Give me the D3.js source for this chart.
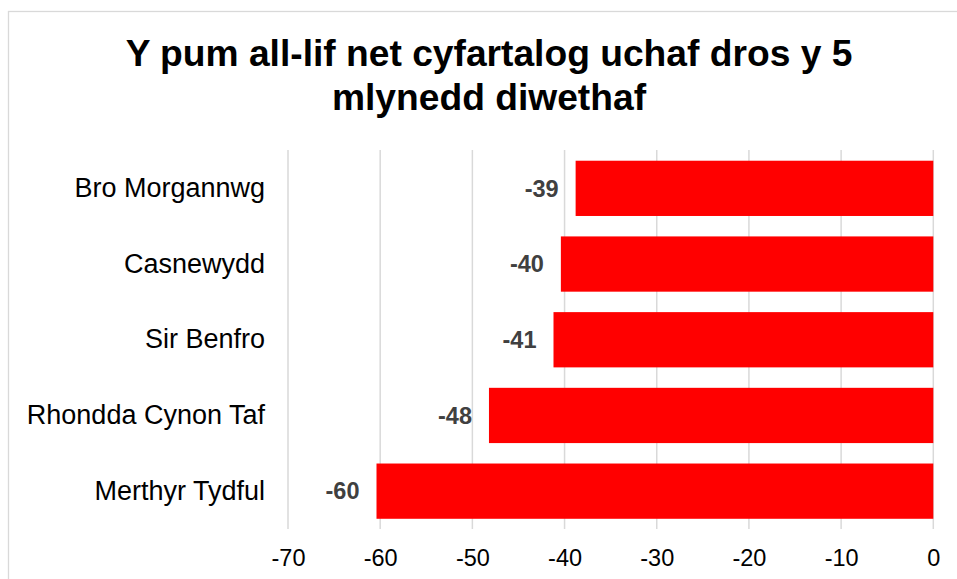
<!DOCTYPE html>
<html>
<head>
<meta charset="utf-8">
<script src="https://cdn.jsdelivr.net/npm/d3@7"></script>
<style>
  body { margin: 0; background: #fff; }
  text { font-family: "Liberation Sans", Arial, sans-serif; }
</style>
</head>
<body>
<div id="chart"></div>
<script>
const width = 957
const height = 579

const titleLines = ['Y pum all-lif net cyfartalog uchaf dros y 5', 'mlynedd diwethaf']
const categories = ['Bro Morgannwg', 'Casnewydd', 'Sir Benfro', 'Rhondda Cynon Taf', 'Merthyr Tydful']
const values = [-38.8, -40.4, -41.2, -48.2, -60.4]
const labels = ['-39', '-40', '-41', '-48', '-60']
const ticks = [-70, -60, -50, -40, -30, -20, -10, 0]

const svg = d3.select('#chart').append('svg').attr('width', width).attr('height', height);

// chart border
svg.append('rect')
  .attr('x', 8.5).attr('y', 11.5)
  .attr('width', 1000).attr('height', 1000)
  .attr('fill', 'none').attr('stroke', '#d9d9d9').attr('stroke-width', 1.3);

svg.append('text')
  .attr('x', 489)
  .attr('y', 66)
  .attr('text-anchor', 'middle')
  .style('font-size', '37.2px')
  .style('font-weight', 'bold')
  .attr('fill', '#000')
  .selectAll('tspan')
  .data(titleLines)
  .enter().append('tspan')
  .attr('x', 489)
  .attr('dy', (d, i) => i === 0 ? 0 : 44)
  .text(d => d);

const x = d3.scaleLinear().domain([-70, 0]).range([288, 933.3]);
const y = d3.scaleBand().domain(categories).range([150.5, 529]).paddingInner(0.27).paddingOuter(0.135);

// gridlines
svg.append('g')
  .selectAll('line')
  .data(ticks)
  .enter().append('line')
  .attr('x1', d => x(d)).attr('x2', d => x(d))
  .attr('y1', 150).attr('y2', 529)
  .attr('stroke', '#d9d9d9').attr('stroke-width', 1.5);

// bars
svg.append('g')
  .selectAll('rect')
  .data(values)
  .enter().append('rect')
  .attr('x', d => x(d))
  .attr('y', (d, i) => y(categories[i]))
  .attr('width', d => x(0) - x(d))
  .attr('height', y.bandwidth())
  .attr('fill', '#ff0000');

// data labels
svg.append('g')
  .selectAll('text')
  .data(values)
  .enter().append('text')
  .attr('x', d => x(d) - 17)
  .attr('y', (d, i) => y(categories[i]) + y.bandwidth() / 2)
  .attr('dy', '0.35em')
  .attr('text-anchor', 'end')
  .style('font-size', '23.5px')
  .style('font-weight', 'bold')
  .attr('fill', '#404040')
  .text((d, i) => labels[i]);

// x axis
const xAxis = svg.append('g')
  .attr('transform', 'translate(0,529)')
  .call(d3.axisBottom(x).tickValues(ticks).tickFormat(d => String(d)).tickSize(0).tickPadding(20));
xAxis.select('.domain').remove();
xAxis.selectAll('text')
  .style('font-size', '23.5px')
  .style('font-family', '"Liberation Sans", Arial, sans-serif')
  .attr('fill', '#000');

// y axis
const yAxis = svg.append('g')
  .attr('transform', 'translate(265,0)')
  .call(d3.axisLeft(y).tickSize(0).tickPadding(0));
yAxis.select('.domain').remove();
yAxis.selectAll('text')
  .style('font-size', '27px')
  .style('font-family', '"Liberation Sans", Arial, sans-serif')
  .attr('fill', '#000');
</script>
</body>
</html>
